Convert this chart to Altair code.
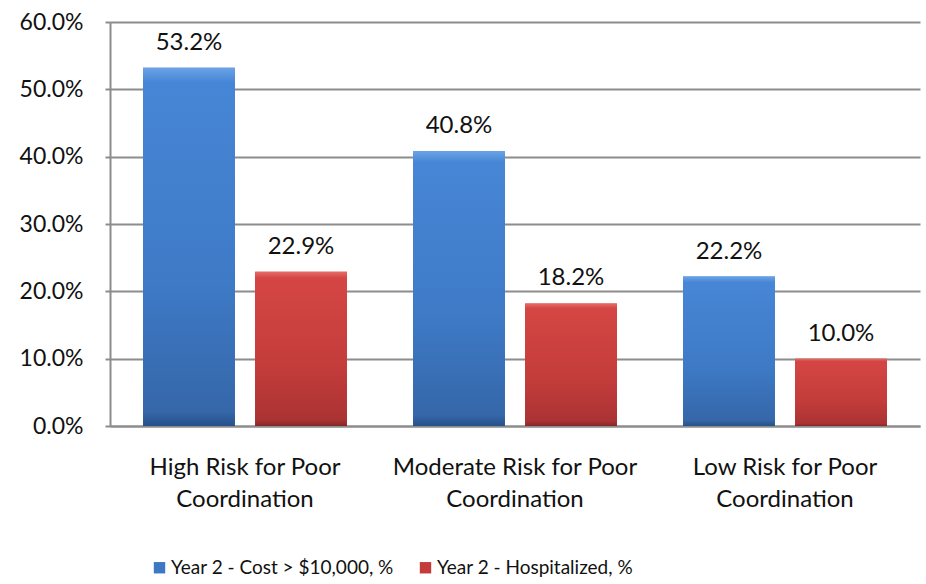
import altair as alt
import pandas as pd

categories = ["High Risk for Poor|Coordination", "Moderate Risk for Poor|Coordination", "Low Risk for Poor|Coordination"]
series = ["Year 2 - Cost > $10,000, %", "Year 2 - Hospitalized, %"]
cost_values = [0.532, 0.408, 0.222]
hosp_values = [0.229, 0.182, 0.100]
y_ticks = [0, 0.1, 0.2, 0.3, 0.4, 0.5, 0.6]

rows = []
for c, v in zip(categories, cost_values):
    rows.append({"category": c, "series": series[0], "value": v})
for c, v in zip(categories, hosp_values):
    rows.append({"category": c, "series": series[1], "value": v})
df = pd.DataFrame(rows)

FONT = "Lato"
FS = 24
BLUE = "#3d78c4"
RED = "#c43c3a"

x_enc = alt.X("category:N", sort=categories, title=None,
              scale=alt.Scale(paddingInner=0, paddingOuter=0),
              axis=alt.Axis(labelExpr="split(datum.label, '|')", labelAngle=0,
                            ticks=False, labelPadding=29, labelLineHeight=32,
                            labelLimit=400,
                            labelFont=FONT, labelFontSize=FS, labelColor="#111111",
                            domainColor="#8c8c8c", domainWidth=2, grid=False))
xo_enc = alt.XOffset("series:N", sort=series,
                     scale=alt.Scale(paddingInner=0.18, paddingOuter=0.295))
y_enc = alt.Y("value:Q", title=None,
              scale=alt.Scale(domain=[0, 0.6], nice=False),
              axis=alt.Axis(values=y_ticks, format=".1%", labelFont=FONT, labelFontSize=23,
                            labelColor="#111111", labelPadding=22, tickSize=5,
                            tickColor="#8c8c8c", tickWidth=2, domainColor="#8c8c8c",
                            domainWidth=2, gridColor="#8c8c8c", gridWidth=2))

base = alt.Chart(df).encode(x=x_enc, xOffset=xo_enc, y=y_enc)

legend_bars = base.mark_bar().encode(
    color=alt.Color("series:N", sort=series,
                    scale=alt.Scale(domain=series, range=[BLUE, RED]),
                    legend=alt.Legend(title=None, orient="none", direction="horizontal",
                                      legendX=40, legendY=536, symbolType="square",
                                      symbolSize=130, symbolStrokeWidth=0,
                                      labelFont=FONT, labelFontSize=19, labelColor="#111111",
                                      labelOffset=2, labelLimit=400,
                                      columnPadding=22, padding=0))
)

blue_grad = alt.LinearGradient(gradient="linear", x1=0, y1=0, x2=0, y2=1,
                               stops=[alt.GradientStop(color="#6aa3e6", offset=0),
                                      alt.GradientStop(color="#4786d6", offset=0.04),
                                      alt.GradientStop(color="#3e7ac6", offset=0.6),
                                      alt.GradientStop(color="#3567a9", offset=0.96),
                                      alt.GradientStop(color="#27508a", offset=1)])
red_grad = alt.LinearGradient(gradient="linear", x1=0, y1=0, x2=0, y2=1,
                              stops=[alt.GradientStop(color="#e66c69", offset=0),
                                     alt.GradientStop(color="#d44643", offset=0.04),
                                     alt.GradientStop(color="#c43d3b", offset=0.6),
                                     alt.GradientStop(color="#ab3333", offset=0.96),
                                     alt.GradientStop(color="#862727", offset=1)])

blue_bars = base.mark_bar(color=blue_grad).transform_filter(
    alt.datum.series == series[0])
red_bars = base.mark_bar(color=red_grad).transform_filter(
    alt.datum.series == series[1])

labels = base.mark_text(baseline="alphabetic", dy=-18, font=FONT, fontSize=FS,
                        color="#111111").encode(text=alt.Text("value:Q", format=".1%"))

chart = alt.layer(legend_bars, blue_bars, red_bars, labels).properties(
    width=810, height=404,
    autosize=alt.AutoSizeParams(type="none"),
    padding={"left": 110, "top": 22, "right": 6, "bottom": 158},
).configure_view(stroke=None).configure_axisY(domain=True)

chart.save("out.html", embed_options={"renderer": "svg", "actions": False})
